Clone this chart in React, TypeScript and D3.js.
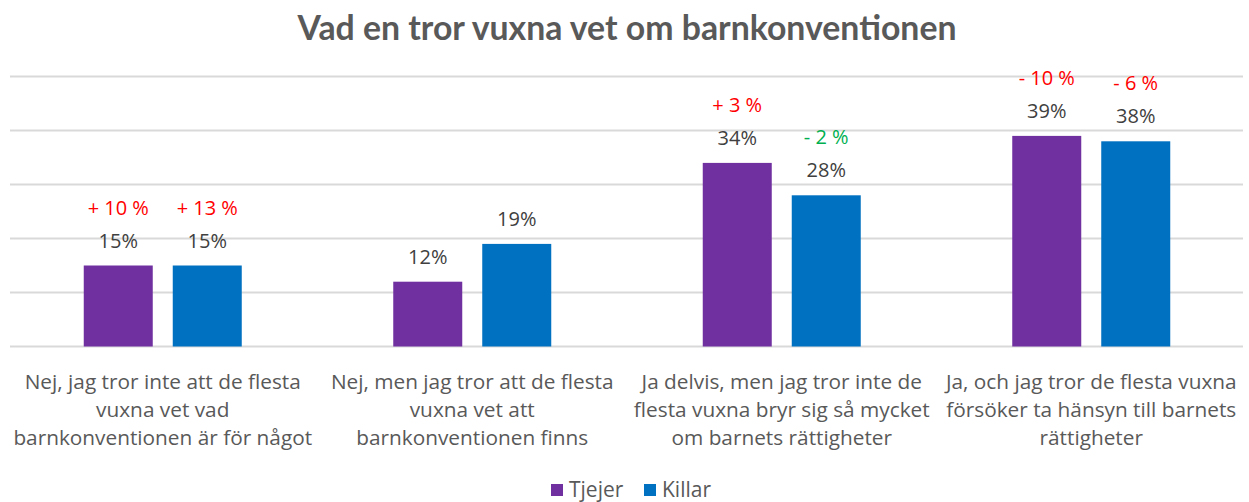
import React from "react";
import * as d3 from "d3";

const categories: string[][] = [
  ["Nej, jag tror inte att de flesta", "vuxna vet vad", "barnkonventionen är för något"],
  ["Nej, men jag tror att de flesta", "vuxna vet att", "barnkonventionen finns"],
  ["Ja delvis, men jag tror inte de", "flesta vuxna bryr sig så mycket", "om barnets rättigheter"],
  ["Ja, och jag tror de flesta vuxna", "försöker ta hänsyn till barnets", "rättigheter"],
];
const seriesNames = ["Tjejer", "Killar"];
const tjejer = [15, 12, 34, 39];
const killar = [15, 19, 28, 38];
const tjejerDelta = ["+ 10 %", "", "+ 3 %", "- 10 %"];
const killarDelta = ["+ 13 %", "", "- 2 %", "- 6 %"];
const killarDeltaGood = [false, false, true, false];
const tjejerDeltaGood = [false, false, false, false];
const yTicks = [0, 10, 20, 30, 40, 50];

const W = 1249;
const H = 502;
const colors = ["#7030A0", "#0070C0"];
const FONT = "'Open Sans', Lato, sans-serif";
const TFONT = "Lato, sans-serif";

export default function App() {
  const x = d3.scaleBand<number>().domain(d3.range(categories.length)).range([8, 1246]).padding(0);
  const y = d3.scaleLinear().domain([0, 50]).range([346.5, 76.5]);
  const barW = 69;
  const gap = 20;
  const series = [
    { name: seriesNames[0], values: tjejer, deltas: tjejerDelta, good: tjejerDeltaGood },
    { name: seriesNames[1], values: killar, deltas: killarDelta, good: killarDeltaGood },
  ];
  const barX = (ci: number, si: number) => {
    const c = (x(ci) as number) + x.bandwidth() / 2;
    const groupW = barW * 2 + gap;
    return c - groupW / 2 + si * (barW + gap);
  };

  return (
    <div style={{ position: "absolute", left: 0, top: 0 }}>
      <svg width={W} height={H} style={{ display: "block", background: "#fff" }}>
        <text x={627} y={40} textAnchor="middle" fontFamily={TFONT} fontWeight={700} fontSize={33.8} fill="#595959">
          Vad en tror vuxna vet om barnkonventionen
        </text>
        {yTicks.map((t) => (
          <line key={t} x1={10} x2={1243} y1={y(t)} y2={y(t)} stroke="#D9D9D9" strokeWidth={2} />
        ))}
        {series.map((s, si) =>
          s.values.map((v, ci) => {
            const bx = barX(ci, si);
            const top = y(v);
            return (
              <g key={`${si}-${ci}`}>
                <rect x={bx} y={top} width={barW} height={y(0) - top} fill={colors[si]} />
                <text x={bx + barW / 2} y={top - 18} textAnchor="middle" fontFamily={FONT} fontSize={20} fill="#404040">
                  {v}%
                </text>
                {s.deltas[ci] && (
                  <text x={bx + barW / 2} y={top - 51} textAnchor="middle" fontFamily={FONT} fontSize={20} fill={s.good[ci] ? "#00B050" : "#FF0000"}>
                    {s.deltas[ci]}
                  </text>
                )}
              </g>
            );
          })
        )}
        {categories.map((lines, ci) => (
          <text key={ci} textAnchor="middle" fontFamily={FONT} fontSize={20.8} fill="#595959">
            {lines.map((l, li) => (
              <tspan key={li} x={(x(ci) as number) + x.bandwidth() / 2} y={388.5 + li * 28}>
                {l}
              </tspan>
            ))}
          </text>
        ))}
        <g>
          {seriesNames.map((n, i) => {
            const lx = [551, 644][i];
            return (
              <g key={n}>
                <rect x={lx} y={484} width={12} height={12} fill={colors[i]} />
                <text x={lx + 18} y={497} fontFamily={FONT} fontSize={21} fill="#595959">
                  {n}
                </text>
              </g>
            );
          })}
        </g>
      </svg>
    </div>
  );
}
